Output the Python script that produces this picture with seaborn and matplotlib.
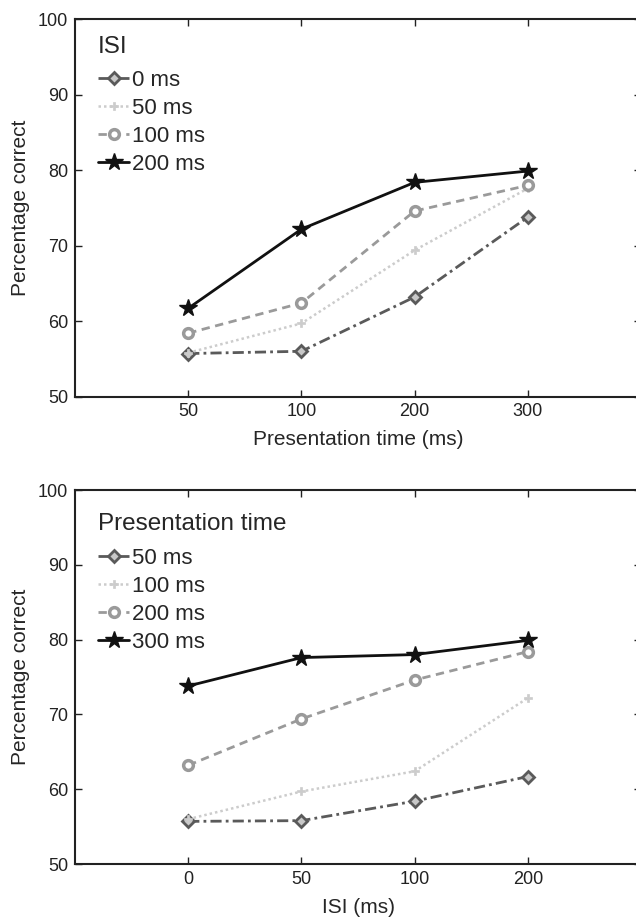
import numpy as np
import pandas as pd
import seaborn as sns
import matplotlib.pyplot as plt

# percentage correct, one list per ISI, over presentation times 50/100/200/300 ms
isi_labels = ["0 ms", "50 ms", "100 ms", "200 ms"]
pt_labels = ["50 ms", "100 ms", "200 ms", "300 ms"]
isi_ticks = ["0", "50", "100", "200"]
pt_ticks = ["50", "100", "200", "300"]
isi_0 = [55.7, 56.0, 63.2, 73.8]
isi_50 = [55.8, 59.7, 69.4, 77.6]
isi_100 = [58.4, 62.4, 74.6, 78.0]
isi_200 = [61.7, 72.2, 78.4, 79.9]

table = np.array([isi_0, isi_50, isi_100, isi_200])

# one style per series position (same order in both panels)
styles = [
    dict(color="#5a5a5a", marker="D", ms=6, mfc="#c8c8c8", mec="#5a5a5a",
         mew=2, dashes=(4, 1.5, 1, 1.5), lw=2),
    dict(color="#cccccc", marker="P", ms=6, mfc="#cccccc", mec="#cccccc",
         mew=0.5, dashes=(1, 1.2), lw=1.8),
    dict(color="#9a9a9a", marker="o", ms=7, mfc="white", mec="#9a9a9a",
         mew=2.5, dashes=(3, 2), lw=2),
    dict(color="#111111", marker="*", ms=13, mfc="#111111", mec="#111111",
         mew=1, dashes=(None, None), lw=2),
]

sns.set_style("ticks")
plt.rcParams['font.family'] = ['Liberation Sans', 'DejaVu Sans']

fig = plt.figure(figsize=(6.36, 9.23), dpi=100)
ax_top = fig.add_axes([0.118, 0.5704, 0.890, 0.4085])
ax_bot = fig.add_axes([0.118, 0.0639, 0.890, 0.4052])

pos = [1, 2, 3, 4]


def draw(ax, rows, labels, ticks, xlabel, title, top):
    for vals, lab, st in zip(rows, labels, styles):
        st = dict(st)
        dashes = st.pop("dashes")
        sns.lineplot(x=pos, y=list(vals), ax=ax, label=lab, **st)
        ln = ax.get_lines()[-1]
        if dashes[0] is None:
            ln.set_linestyle("-")
        else:
            ln.set_dashes(dashes)
    ax.set_xlim(0, 5)
    ax.set_ylim(50, 100)
    ax.set_xticks(pos)
    ax.set_xticklabels(ticks)
    ax.set_yticks([50, 60, 70, 80, 90, 100])
    ax.tick_params(direction="in", top=True, right=True, length=5,
                   width=1, labelsize=13, colors="#222222", pad=5)
    for s in ax.spines.values():
        s.set_linewidth(1.5)
        s.set_color("#222222")
    ax.set_xlabel(xlabel, fontsize=15, labelpad=7)
    ax.set_ylabel("Percentage correct", fontsize=15, labelpad=6)
    leg = ax.legend(title=title, loc="upper left", frameon=False,
                    bbox_to_anchor=(0.013, top), fontsize=16,
                    title_fontsize=17.5, handlelength=1.4,
                    handletextpad=0.15, labelspacing=0.31, borderpad=0.2,
                    alignment="left")
    # a bit more room under the title than between entries
    leg._legend_box.sep = 0.31 * 16 + 4
    return leg


draw(ax_top, table, isi_labels, pt_ticks, "Presentation time (ms)", "ISI",
     0.998)
draw(ax_bot, table.T, pt_labels, isi_ticks, "ISI (ms)", "Presentation time",
     0.979)

fig.savefig("out.png", dpi=100)
